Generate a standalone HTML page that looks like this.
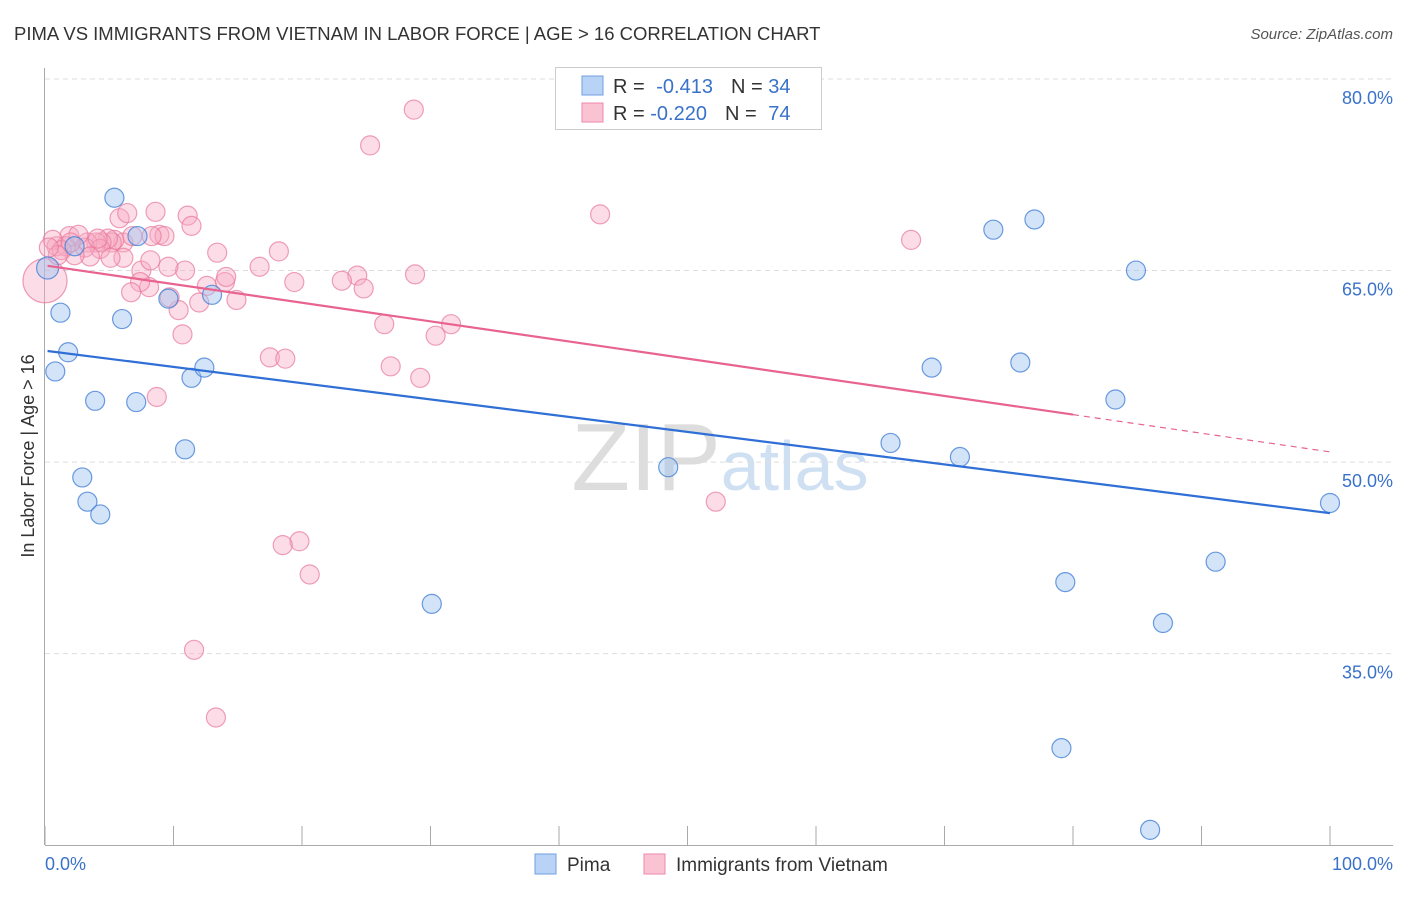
<!DOCTYPE html>
<html><head><meta charset="utf-8"><style>
body{margin:0;background:#fff;font-family:"Liberation Sans",sans-serif;}
svg text{font-family:"Liberation Sans",sans-serif;}
</style></head><body>
<svg id="c" width="1406" height="892" xmlns="http://www.w3.org/2000/svg">
<text x="14" y="40" font-size="18.5" fill="#333">PIMA VS IMMIGRANTS FROM VIETNAM IN LABOR FORCE | AGE &gt; 16 CORRELATION CHART</text>
<text x="1393" y="39" font-size="15" fill="#555" font-style="italic" text-anchor="end">Source: ZipAtlas.com</text>
<text x="720" y="490" font-size="96" fill="#ddd" text-anchor="middle" font-family="Liberation Serif">ZIP<tspan fill="#cfe0f3" font-family="Liberation Sans" font-size="70">atlas</tspan></text>
<g id="grid"></g><g id="axes"></g><g id="pts"></g><g id="lines"></g>
<text transform="translate(34,456) rotate(-90)" font-size="18" fill="#333" text-anchor="middle">In Labor Force | Age &gt; 16</text>
<text x="45" y="870" font-size="18" fill="#3a72c9">0.0%</text>
<text x="1393" y="870" font-size="18" fill="#3a72c9" text-anchor="end">100.0%</text>
<g>
<rect x="555.5" y="67.5" width="266" height="62" fill="#fff" stroke="#ccc"/>
<rect x="582" y="76" width="21" height="19" fill="#b8d3f5" stroke="#6f9fe0"/>
<rect x="582" y="103" width="21" height="19" fill="#fac3d3" stroke="#ee8aa8"/>
<text x="613" y="93" font-size="20" fill="#333">R = <tspan fill="#3a72c9" dx="6">-0.413</tspan><tspan dx="18">N = </tspan><tspan fill="#3a72c9">34</tspan></text>
<text x="613" y="120" font-size="20" fill="#333">R = <tspan fill="#3a72c9">-0.220</tspan><tspan dx="18">N = </tspan><tspan fill="#3a72c9" dx="6">74</tspan></text>
</g>
<g>
<rect x="535" y="854" width="21" height="20" fill="#b8d3f5" stroke="#6f9fe0"/>
<text x="567" y="871" font-size="19" fill="#333">Pima</text>
<rect x="644" y="854" width="21" height="20" fill="#fac3d3" stroke="#ee8aa8"/>
<text x="676" y="871" font-size="19" fill="#333">Immigrants from Vietnam</text>
</g>
</svg>
<script>
const yTicks=[80,65,50,35];
const yTickLabels=["80.0%","65.0%","50.0%","35.0%"];
const xTicks=[0,10,20,30,40,50,60,70,80,90,100];
const pimaX=[5.4,0.2,1.2,1.8,0.8,3.9,7.1,6.0,2.9,3.3,4.3,10.9,11.4,12.4,9.6,13.0,7.2,2.3,30.1,48.5,65.8,69.0,71.2,73.8,77.0,75.9,84.9,83.3,79.4,91.1,87.0,79.1,86.0,100];
const pimaY=[70.7,65.2,61.7,58.6,57.1,54.8,54.7,61.2,48.8,46.9,45.9,51.0,56.6,57.4,62.8,63.1,67.7,66.9,38.9,49.6,51.5,57.4,50.4,68.2,69.0,57.8,65.0,54.9,40.6,42.2,37.4,27.6,21.2,46.8];
const vietX=[28.7,25.3,43.2,67.4,52.2,19.8,18.5,20.6,11.6,13.3,8.7,26.9,29.2,26.4,31.6,30.4,24.3,28.8,24.8,23.1,18.2,16.7,19.4,13.4,14.9,14.0,14.1,12.6,12.0,10.7,10.4,9.7,10.9,9.6,8.1,7.5,7.4,6.7,8.2,6.1,5.8,6.4,8.6,11.1,11.4,8.9,9.3,8.3,5.4,5.2,4.9,4.4,4.0,3.3,4.3,3.1,6.1,5.1,3.5,1.9,1.6,0.9,0.6,2.3,1.3,17.5,18.7,0,2.6,6.8,4.1,1.0,0.3,2.0];
const vietY=[77.6,74.8,69.4,67.4,46.9,43.8,43.5,41.2,35.3,30.0,55.1,57.5,56.6,60.8,60.8,59.9,64.6,64.7,63.6,64.2,66.5,65.3,64.1,66.4,62.7,64.1,64.5,63.8,62.5,60.0,61.9,62.9,65.0,65.3,63.7,65.0,64.1,63.3,65.8,67.2,69.1,69.5,69.6,69.3,68.5,67.8,67.7,67.7,67.4,67.2,67.5,67.2,67.2,67.2,66.7,66.8,66.0,66.0,66.1,67.7,66.9,66.9,67.4,66.2,66.6,58.2,58.1,64.2,67.8,67.7,67.5,66.2,66.8,67.2];
const pimaTrend=[58.7,46.0];
const vietTrend=[65.4,50.8];
const vietSolidEnd=80;
const X=v=>45+v*12.85, Y=v=>79+(80-v)*12.77;
const NS="http://www.w3.org/2000/svg";
function mk(t,a,p){const e=document.createElementNS(NS,t);for(const k in a)e.setAttribute(k,a[k]);p.appendChild(e);return e;}
const grid=document.getElementById('grid'),axes=document.getElementById('axes'),pts=document.getElementById('pts'),lines=document.getElementById('lines');
yTicks.forEach((t,i)=>{
const l=mk('line',{x1:45,x2:1393,y1:Y(t),y2:Y(t),stroke:'#ddd','stroke-dasharray':'5,4'},grid);


const tx=mk('text',{x:1393,y:Y(t)+25,'font-size':18,fill:'#3a72c9','text-anchor':'end'},grid);
tx.textContent=yTickLabels[i];


});
const ax=mk('line',{x1:44.5,x2:44.5,y1:68,y2:845,stroke:'#aaa'},axes);


const bx=mk('line',{x1:45,x2:1393,y1:845.5,y2:845.5,stroke:'#aaa'},axes);


xTicks.forEach(t=>{
const l=mk('line',{x1:X(t),x2:X(t),y1:826,y2:845,stroke:'#aaa'},axes);


});
vietX.forEach((x,i)=>{
const big=(x===0);
const c=mk('circle',{cx:X(x),cy:Y(vietY[i]),r:big?22:9.5,fill:'rgba(248,170,195,0.4)',stroke:'rgba(232,120,155,0.7)','stroke-width':1.2},pts);


});
pimaX.forEach((x,i)=>{
const c=mk('circle',{cx:X(x),cy:Y(pimaY[i]),r:i===1?11:9.5,fill:'rgba(160,195,240,0.45)',stroke:'rgba(70,130,215,0.8)','stroke-width':1.2},pts);


});
const pl=mk('line',{x1:X(0.2),y1:Y(pimaTrend[0]),x2:X(100),y2:Y(pimaTrend[1]),stroke:'#2f6fd6','stroke-width':2.2},lines);


const vAt=x=>vietTrend[0]+(vietTrend[1]-vietTrend[0])*x/100;
const vl=mk('line',{x1:X(0.2),y1:Y(vAt(0.2)),x2:X(vietSolidEnd),y2:Y(vAt(vietSolidEnd)),stroke:'#e8638f','stroke-width':2.2},lines);


const vd=mk('line',{x1:X(vietSolidEnd),y1:Y(vAt(vietSolidEnd)),x2:X(100),y2:Y(vAt(100)),stroke:'#e8638f','stroke-width':1.2,'stroke-dasharray':'6,5'},lines);


</script>
</body></html>
